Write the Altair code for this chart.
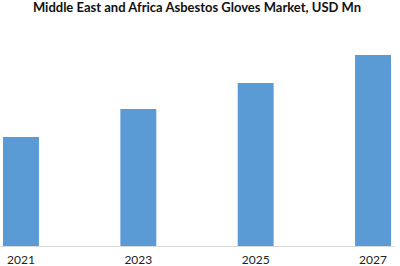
import altair as alt
import pandas as pd

years = ["2021", "2023", "2025", "2027"]
values = [109, 137, 163, 191]

df = pd.DataFrame({"year": years, "value": values})

chart = alt.Chart(df).mark_bar(color="#5b9bd5").encode(
    x=alt.X("year:N", sort=years,
            scale=alt.Scale(paddingInner=0.6936, paddingOuter=0.0255),
            axis=alt.Axis(title=None, labelAngle=0, domainColor="#d9d9d9",
                          ticks=False, labelFontSize=12, labelColor="#222222",
                          labelFont="Lato", labelPadding=8)),
    y=alt.Y("value:Q", scale=alt.Scale(domain=[0, 191], nice=False),
            axis=None),
).properties(
    width=394, height=191,
    title=alt.TitleParams("Middle East and Africa Asbestos Gloves Market, USD Mn",
                          font="Lato", fontSize=13, fontWeight="bold",
                          color="#111111", offset=40, anchor="middle"),
    autosize=alt.AutoSizeParams(type="none"),
    padding={"left": 0, "top": 55, "right": 6, "bottom": 20},
).configure_view(stroke=None)

chart.save("out.html", embed_options={"renderer": "svg", "actions": False})
